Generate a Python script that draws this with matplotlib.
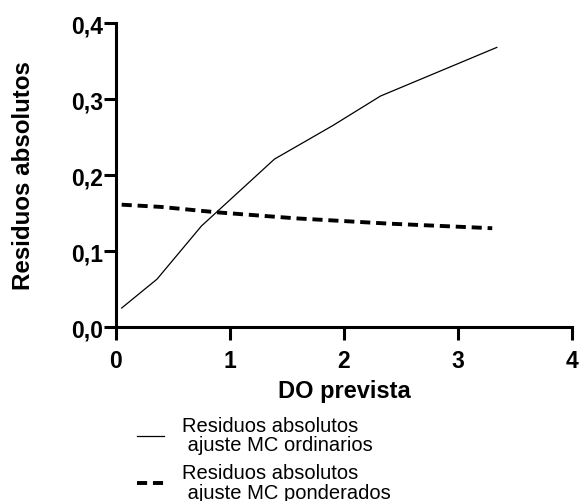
import matplotlib.pyplot as plt
from matplotlib.ticker import FuncFormatter

plt.rcParams['font.family'] = ['Liberation Sans', 'DejaVu Sans']

# ordinary least squares residuals
x_ord = [0.05, 0.36, 0.75, 1.39, 1.9, 2.32, 3.34]
y_ord = [0.025, 0.063, 0.133, 0.221, 0.265, 0.304, 0.368]

# weighted least squares residuals
x_pond = [0.05, 0.4, 0.88, 1.58, 2.4, 3.3]
y_pond = [0.161, 0.158, 0.151, 0.143, 0.136, 0.130]

labels = ["Residuos absolutos\n ajuste MC ordinarios",
          "Residuos absolutos\n ajuste MC ponderados"]

fig = plt.figure(figsize=(5.79, 5.02), dpi=100)
ax = fig.add_axes([0.2003, 0.3466, 0.7877, 0.6054])

ax.plot(x_ord, y_ord, color="black", linewidth=0.9, label=labels[0])
ax.plot(x_pond, y_pond, color="black", linewidth=2.8, dashes=(2.6, 1.5), label=labels[1])

ax.set_xlim(0, 4)
ax.set_ylim(0, 0.4)
ax.set_xticks([0, 1, 2, 3, 4])
ax.set_yticks([0, 0.1, 0.2, 0.3, 0.4])
ax.yaxis.set_major_formatter(FuncFormatter(lambda v, p: f"{v:.1f}".replace(".", ",")))

for s in ["top", "right"]:
    ax.spines[s].set_visible(False)
for s in ["left", "bottom"]:
    ax.spines[s].set_linewidth(2.2)

ax.tick_params(direction="out", length=9, width=2.2, labelsize=16.5)
ax.tick_params(axis="x", pad=7)
ax.tick_params(axis="y", pad=0)
for t in ax.get_xticklabels() + ax.get_yticklabels():
    t.set_fontweight("bold")

ax.set_xlabel("DO prevista", fontsize=17, fontweight="bold", labelpad=5)
ax.set_ylabel("Residuos absolutos", fontsize=17.4, fontweight="bold", labelpad=26)

leg = ax.legend(loc="upper left", bbox_to_anchor=(0.219, 0.19), bbox_transform=fig.transFigure,
                frameon=False, fontsize=14.5, handlelength=1.35, handletextpad=0.9,
                labelspacing=0.42, borderpad=0)
for t in leg.get_texts():
    t.set_linespacing(1.05)

fig.savefig("out.png", dpi=100)
